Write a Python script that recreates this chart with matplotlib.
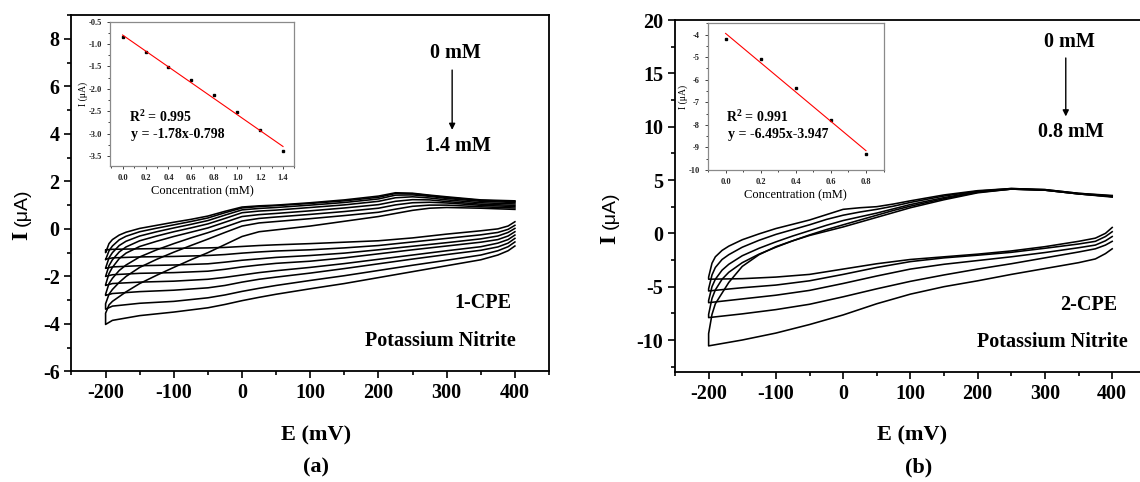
import numpy as np
import matplotlib
matplotlib.use("Agg")
import matplotlib.pyplot as plt
from matplotlib.ticker import MultipleLocator

plt.rcParams["font.family"] = ["Liberation Serif", "DejaVu Serif"]
plt.rcParams["font.weight"] = "bold"
plt.rcParams["axes.unicode_minus"] = False
plt.rcParams["mathtext.fontset"] = "custom"
plt.rcParams["mathtext.rm"] = "Liberation Serif:bold"
plt.rcParams["mathtext.bf"] = "Liberation Serif:bold"

# ---------------- panel (a): 1-CPE ----------------
# forward (anodic) sweep, -200 -> 400 mV
e_fwd_a = [-200, -195, -190, -180, -170, -150, -125, -100, -75, -50, -25, 0,
           25, 50, 100, 150, 200, 225, 250, 275, 300, 350, 400]
i_fwd_a = [
    [-1.00, -0.62, -0.45, -0.26, -0.14, 0.02, 0.15, 0.28, 0.40, 0.54, 0.74, 0.92, 0.97, 1.00, 1.10, 1.22, 1.38, 1.52, 1.50, 1.42, 1.35, 1.22, 1.18],
    [-1.30, -0.92, -0.72, -0.46, -0.31, -0.12, 0.03, 0.17, 0.31, 0.46, 0.68, 0.88, 0.94, 0.98, 1.07, 1.18, 1.33, 1.49, 1.48, 1.40, 1.32, 1.20, 1.15],
    [-1.65, -1.22, -1.00, -0.70, -0.52, -0.30, -0.12, 0.04, 0.19, 0.35, 0.58, 0.80, 0.86, 0.90, 1.00, 1.11, 1.26, 1.42, 1.43, 1.37, 1.28, 1.16, 1.11],
    [-2.00, -1.55, -1.30, -0.97, -0.76, -0.50, -0.30, -0.12, 0.04, 0.21, 0.44, 0.68, 0.75, 0.79, 0.90, 1.01, 1.16, 1.31, 1.35, 1.30, 1.22, 1.10, 1.05],
    [-2.35, -1.88, -1.62, -1.25, -1.02, -0.74, -0.52, -0.32, -0.14, 0.04, 0.28, 0.52, 0.60, 0.65, 0.76, 0.88, 1.02, 1.16, 1.23, 1.22, 1.15, 1.04, 0.99],
    [-2.75, -2.30, -2.08, -1.75, -1.52, -1.18, -0.88, -0.62, -0.38, -0.16, 0.08, 0.33, 0.44, 0.50, 0.61, 0.73, 0.87, 1.01, 1.10, 1.12, 1.09, 0.99, 0.94],
    [-3.15, -2.75, -2.55, -2.25, -2.00, -1.62, -1.28, -0.98, -0.70, -0.43, -0.15, 0.12, 0.25, 0.31, 0.43, 0.56, 0.70, 0.83, 0.95, 1.00, 1.00, 0.93, 0.88],
    [-3.55, -3.20, -3.05, -2.85, -2.65, -2.30, -1.95, -1.62, -1.30, -1.00, -0.66, -0.32, -0.12, -0.04, 0.12, 0.32, 0.52, 0.65, 0.78, 0.87, 0.90, 0.87, 0.82],
]
# reverse (cathodic) sweep, 400 -> -200 mV
e_rev_a = [400, 390, 375, 350, 300, 250, 200, 150, 100, 50, 25, 0, -25, -50,
           -100, -150, -190, -200]
i_rev_a = [
    [0.30, 0.12, 0.00, -0.08, -0.22, -0.38, -0.50, -0.56, -0.62, -0.67, -0.70, -0.74, -0.78, -0.80, -0.82, -0.84, -0.86, -0.88],
    [0.15, -0.02, -0.15, -0.25, -0.40, -0.55, -0.70, -0.80, -0.88, -0.93, -0.97, -1.02, -1.08, -1.12, -1.16, -1.18, -1.22, -1.28],
    [0.02, -0.15, -0.30, -0.42, -0.58, -0.73, -0.88, -1.02, -1.12, -1.20, -1.26, -1.32, -1.40, -1.47, -1.52, -1.55, -1.60, -1.66],
    [-0.12, -0.30, -0.45, -0.56, -0.72, -0.88, -1.05, -1.22, -1.36, -1.45, -1.52, -1.60, -1.70, -1.78, -1.84, -1.87, -1.93, -2.00],
    [-0.26, -0.45, -0.60, -0.75, -0.92, -1.10, -1.28, -1.46, -1.62, -1.76, -1.84, -1.94, -2.04, -2.12, -2.20, -2.24, -2.30, -2.38],
    [-0.40, -0.60, -0.76, -0.90, -1.08, -1.27, -1.47, -1.67, -1.86, -2.03, -2.12, -2.24, -2.38, -2.48, -2.58, -2.64, -2.72, -2.80],
    [-0.55, -0.75, -0.92, -1.10, -1.32, -1.53, -1.75, -1.97, -2.17, -2.38, -2.50, -2.63, -2.78, -2.90, -3.05, -3.13, -3.25, -3.38],
    [-0.72, -0.92, -1.10, -1.30, -1.55, -1.80, -2.05, -2.30, -2.52, -2.75, -2.88, -3.02, -3.18, -3.32, -3.50, -3.65, -3.85, -4.02],
]
conc_a = [0.0, 0.2, 0.4, 0.6, 0.8, 1.0, 1.2, 1.4]
peak_a = [-0.836, -1.17, -1.52, -1.81, -2.13, -2.51, -2.93, -3.39]
slope_a, icpt_a, r2_a = -1.78, -0.798, 0.995

# ---------------- panel (b): 2-CPE ----------------
e_fwd_b = [-200, -195, -190, -180, -170, -150, -125, -100, -75, -50, -25, 0,
           25, 50, 75, 100, 150, 200, 250, 300, 350, 400]
i_fwd_b = [
    [-4.1, -2.8, -2.2, -1.6, -1.2, -0.6, -0.05, 0.45, 0.85, 1.25, 1.75, 2.25, 2.40, 2.50, 2.75, 3.05, 3.60, 4.00, 4.20, 4.10, 3.75, 3.50],
    [-5.2, -3.9, -3.2, -2.45, -2.0, -1.3, -0.65, -0.10, 0.35, 0.80, 1.30, 1.70, 2.00, 2.25, 2.55, 2.90, 3.50, 3.95, 4.20, 4.10, 3.75, 3.55],
    [-6.3, -5.0, -4.3, -3.45, -2.9, -2.1, -1.40, -0.80, -0.25, 0.25, 0.75, 1.20, 1.55, 1.90, 2.30, 2.70, 3.35, 3.90, 4.15, 4.05, 3.70, 3.45],
    [-7.6, -6.1, -5.3, -4.3, -3.65, -2.75, -1.95, -1.30, -0.70, -0.15, 0.35, 0.80, 1.25, 1.70, 2.15, 2.55, 3.25, 3.85, 4.15, 4.05, 3.70, 3.45],
    [-9.4, -7.6, -6.6, -5.6, -4.6, -3.1, -2.00, -1.25, -0.70, -0.20, 0.20, 0.60, 1.05, 1.50, 1.95, 2.40, 3.15, 3.80, 4.15, 4.05, 3.70, 3.40],
]
e_rev_b = [400, 390, 375, 350, 300, 250, 200, 150, 100, 50, 0, -50, -100, -150, -200]
i_rev_b = [
    [0.55, 0.00, -0.45, -0.75, -1.25, -1.65, -1.95, -2.20, -2.45, -2.85, -3.35, -3.85, -4.10, -4.25, -4.30],
    [0.15, -0.30, -0.75, -1.00, -1.40, -1.78, -2.05, -2.30, -2.65, -3.20, -3.85, -4.45, -4.85, -5.10, -5.40],
    [-0.30, -0.70, -1.10, -1.35, -1.80, -2.20, -2.55, -2.90, -3.35, -4.00, -4.70, -5.35, -5.80, -6.15, -6.50],
    [-0.75, -1.10, -1.45, -1.75, -2.30, -2.85, -3.35, -3.90, -4.50, -5.20, -5.95, -6.65, -7.15, -7.55, -7.90],
    [-1.45, -1.90, -2.40, -2.75, -3.30, -3.85, -4.45, -5.00, -5.70, -6.60, -7.65, -8.55, -9.35, -10.00, -10.55],
]
conc_b = [0.0, 0.2, 0.4, 0.6, 0.8]
peak_b = [-4.21, -5.07, -6.36, -7.80, -9.27]
slope_b, icpt_b, r2_b = -6.495, -3.947, 0.991

fig = plt.figure(figsize=(11.4, 4.82), dpi=100)


def style_main(ax):
    for s in ax.spines.values():
        s.set_linewidth(1.3)
    ax.tick_params(which="both", direction="out", top=False, right=False,
                   width=1.2, labelsize=14.5)
    ax.tick_params(which="major", length=5)
    ax.tick_params(which="minor", length=3)


def draw_cv(ax, e_rev, i_rev, e_fwd, i_fwd):
    for rev, fwd in zip(i_rev, i_fwd):
        x = np.concatenate([e_rev, e_fwd])
        y = np.concatenate([rev, fwd])
        ax.plot(x, y, color="black", lw=1.15)


def draw_inset(rect, conc, peak, slope, icpt, xlim, ylim, ymaj, ymin):
    ins = fig.add_axes(rect)
    ins.plot(conc, peak, "s", color="black", ms=2.0)
    xf = np.array([conc[0], conc[-1]])
    ins.plot(xf, slope * xf + icpt, color="red", lw=0.8)
    ins.set_xlim(*xlim)
    ins.set_ylim(*ylim)
    ins.xaxis.set_major_locator(MultipleLocator(0.2))
    ins.xaxis.set_minor_locator(MultipleLocator(0.1))
    ins.yaxis.set_major_locator(MultipleLocator(ymaj))
    ins.yaxis.set_minor_locator(MultipleLocator(ymin))
    for s in ins.spines.values():
        s.set_color("#8a8a8a")
        s.set_linewidth(0.9)
    ins.tick_params(which="both", direction="out", labelsize=6, width=0.6,
                    colors="#222222", top=False, right=False)
    ins.tick_params(which="major", length=2.5)
    ins.tick_params(which="minor", length=1.5)
    ins.set_xlabel("Concentration (mM)", fontsize=9, labelpad=2)
    ins.set_ylabel("I (μA)", fontsize=7, labelpad=0)
    return ins


def y_title(x, y_i, y_unit):
    # bold serif "I" followed by the unit in a plain sans face
    fig.text(x, y_i, "I", rotation=90, ha="center", va="center", fontsize=17)
    fig.text(x, y_unit, "(μA)", rotation=90, ha="center", va="center",
             fontsize=14, family="Liberation Sans", weight="normal")


# panel (a)
ax1 = fig.add_axes([0.0627, 0.2293, 0.4189, 0.7396])
draw_cv(ax1, e_rev_a, i_rev_a, e_fwd_a, i_fwd_a)
ax1.set_xlim(-250, 450)
ax1.set_ylim(-6, 9)
ax1.set_xticks([-200, -100, 0, 100, 200, 300, 400])
ax1.xaxis.set_minor_locator(MultipleLocator(50))
ax1.set_yticks([-6, -4, -2, 0, 2, 4, 6, 8])
ax1.yaxis.set_minor_locator(MultipleLocator(1))
style_main(ax1)
ax1.text(313, 7.4, "0 mM", ha="center", va="center", fontsize=14.5)
ax1.annotate("", xy=(308, 4.05), xytext=(308, 6.8),
             arrowprops=dict(arrowstyle="-|>", color="black", lw=1.0, mutation_scale=9))
ax1.text(316, 3.5, "1.4 mM", ha="center", va="center", fontsize=14.5)
ax1.text(395, -3.13, "1-CPE", ha="right", va="center", fontsize=14.5)
ax1.text(401, -4.7, "Potassium Nitrite", ha="right", va="center", fontsize=14.5)

draw_inset([0.0965, 0.6562, 0.1618, 0.2988], conc_a, peak_a, slope_a, icpt_a,
           (-0.11, 1.5), (-3.72, -0.5), 0.5, 0.25)
fig.text(0.113, 0.757, f"R$^{{2}}$ = {r2_a}", fontsize=10, va="center")
fig.text(0.115, 0.720, f"y = {slope_a}x{icpt_a}", fontsize=10, va="center")

# panel (b)
ax2 = fig.add_axes([0.5921, 0.2282, 0.4425, 0.7303])
draw_cv(ax2, e_rev_b, i_rev_b, e_fwd_b, i_fwd_b)
ax2.set_xlim(-250, 500)
ax2.set_ylim(-13, 20)
ax2.set_xticks([-200, -100, 0, 100, 200, 300, 400])
ax2.xaxis.set_minor_locator(MultipleLocator(50))
ax2.set_yticks([-10, -5, 0, 5, 10, 15, 20])
ax2.yaxis.set_minor_locator(MultipleLocator(2.5))
style_main(ax2)
ax2.text(337, 17.95, "0 mM", ha="center", va="center", fontsize=14.5)
ax2.annotate("", xy=(331, 10.7), xytext=(331, 16.7),
             arrowprops=dict(arrowstyle="-|>", color="black", lw=1.0, mutation_scale=9))
ax2.text(338, 9.5, "0.8 mM", ha="center", va="center", fontsize=14.5)
ax2.text(407, -6.7, "2-CPE", ha="right", va="center", fontsize=14.5)
ax2.text(423, -10.2, "Potassium Nitrite", ha="right", va="center", fontsize=14.5)

draw_inset([0.6211, 0.6473, 0.1539, 0.3043], conc_b, peak_b, slope_b, icpt_b,
           (-0.1, 0.9), (-10, -3.5), 1, 0.5)
fig.text(0.637, 0.757, f"R$^{{2}}$ = {r2_b}", fontsize=10, va="center")
fig.text(0.639, 0.720, f"y = {slope_b}x{icpt_b}", fontsize=10, va="center")

# axis titles and panel letters
y_title(0.0193, 1 - 235 / 482, 1 - 207 / 482)
y_title(0.535, 1 - 239 / 482, 1 - 210 / 482)
fig.text(0.277, 0.0975, "E (mV)", ha="center", va="center", fontsize=16)
fig.text(0.800, 0.0975, "E (mV)", ha="center", va="center", fontsize=16)
fig.text(0.277, 0.031, "(a)", ha="center", va="center", fontsize=16)
fig.text(0.806, 0.031, "(b)", ha="center", va="center", fontsize=16)

fig.savefig("out.png", dpi=100)
